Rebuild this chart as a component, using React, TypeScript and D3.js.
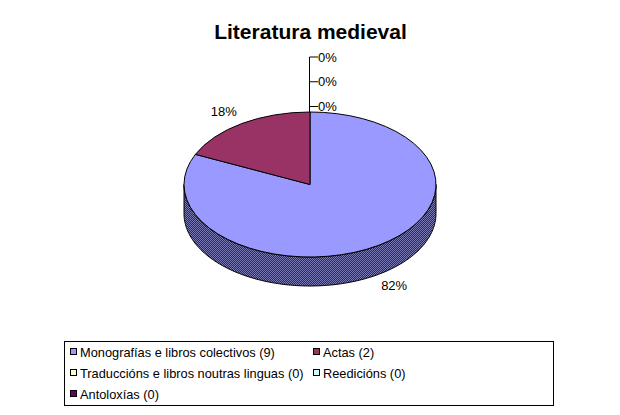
import * as d3 from 'd3';

const categories = [
  'Monografías e libros colectivos (9)',
  'Actas (2)',
  'Traduccións e libros noutras linguas (0)',
  'Reedicións (0)',
  'Antoloxías (0)',
];
const values = [9, 2, 0, 0, 0];
const colors = ['#9999ff', '#993366', '#ffffcc', '#ccffff', '#660066'];
const title = 'Literatura medieval';

const font = '"Liberation Sans", Arial, sans-serif';
const cx = 310;
const cy = 184.5;
const rx = 126;
const ry = 72.5;
const depth = 29;

const App = () => {
  const total = d3.sum(values);
  const arcs = d3.pie<number>().sort(null).value(d => d)(values);
  const arc = d3.arc<d3.PieArcDatum<number>>().innerRadius(0).outerRadius(rx);
  const labelArc = d3.arc<d3.PieArcDatum<number>>().innerRadius(rx * 1.25).outerRadius(rx * 1.25);
  const pct = (v: number) => `${Math.round((v / total) * 100)}%`;

  // side wall is the front half of the ellipse pushed down
  const front = d3.range(90, 270.5, 1).map(d => (d * Math.PI) / 180);
  const edge = front.map(a => [cx + rx * Math.sin(a), cy - ry * Math.cos(a)] as [number, number]);
  const wall = d3.area<[number, number]>()
    .x(d => d[0])
    .y0(d => d[1])
    .y1(d => d[1] + depth)(edge);

  const zeroY = d3.scaleLinear().domain([0, 2]).range([57, 106.5]);
  const zeros = values.filter(v => v === 0);
  const legendRow = d3.scalePoint<number>().domain([0, 1, 2]).range([352, 394]);
  const legendPos: [number, number][] = [[0, 0], [1, 0], [0, 1], [1, 1], [0, 2]];

  return (
    <svg width={620} height={415} style={{ position: 'absolute', left: 0, top: 0, background: '#fff' }}>
      <defs>
        <pattern id="dither" width={2} height={2} patternUnits="userSpaceOnUse">
          <rect width={2} height={2} fill="#26266e" />
          <rect width={1} height={1} fill="#7a7ab4" />
          <rect x={1} y={1} width={1} height={1} fill="#7a7ab4" />
        </pattern>
      </defs>
      <text x={310.5} y={39} textAnchor="middle" fontFamily={font} fontWeight="bold" fontSize={21}>{title}</text>

      <path d={wall ?? ''} fill="url(#dither)" stroke="#000" strokeWidth={1} />
      <g transform={`translate(${cx},${cy}) scale(1,${ry / rx})`}>
        {arcs.filter(d => d.value > 0).map(d => (
          <path key={d.index} d={arc(d) ?? ''} fill={colors[d.index]} stroke="#000" strokeWidth={1} vectorEffect="non-scaling-stroke" />
        ))}
      </g>

      {arcs.filter(d => d.value > 0).map(d => {
        const [lx, ly] = labelArc.centroid(d);
        const below = Math.cos((d.startAngle + d.endAngle) / 2) < 0;
        return (
          <text key={d.index} x={cx + lx - 1} y={cy + ((ly * ry) / rx) * 0.955 + (below ? depth : 0) + 4} textAnchor="middle" fontFamily={font} fontSize={13}>
            {pct(d.value)}
          </text>
        );
      })}

      <path d={`M${cx - 0.5},${cy - ry}V${zeroY(0)}`} stroke="#000" fill="none" />
      {zeros.map((v, i) => (
        <g key={i}>
          <line x1={cx - 0.5} x2={318} y1={zeroY(i)} y2={zeroY(i)} stroke="#000" />
          <text x={318} y={zeroY(i) + 4.5} fontFamily={font} fontSize={13}>{pct(v)}</text>
        </g>
      ))}

      <rect x={64.5} y={341.5} width={489} height={64} fill="#fff" stroke="#000" />
      {categories.map((c, i) => {
        const [col, row] = legendPos[i];
        const y = legendRow(row) ?? 0;
        const sx = col === 0 ? 70.5 : 313.5;
        return (
          <g key={c}>
            <rect x={sx} y={y - 3.5} width={6} height={6} fill={colors[i]} stroke="#000" />
            <text x={sx + 9.5} y={y + 5} fontFamily={font} fontSize={12.8}>{c}</text>
          </g>
        );
      })}
    </svg>
  );
};

export default App;
